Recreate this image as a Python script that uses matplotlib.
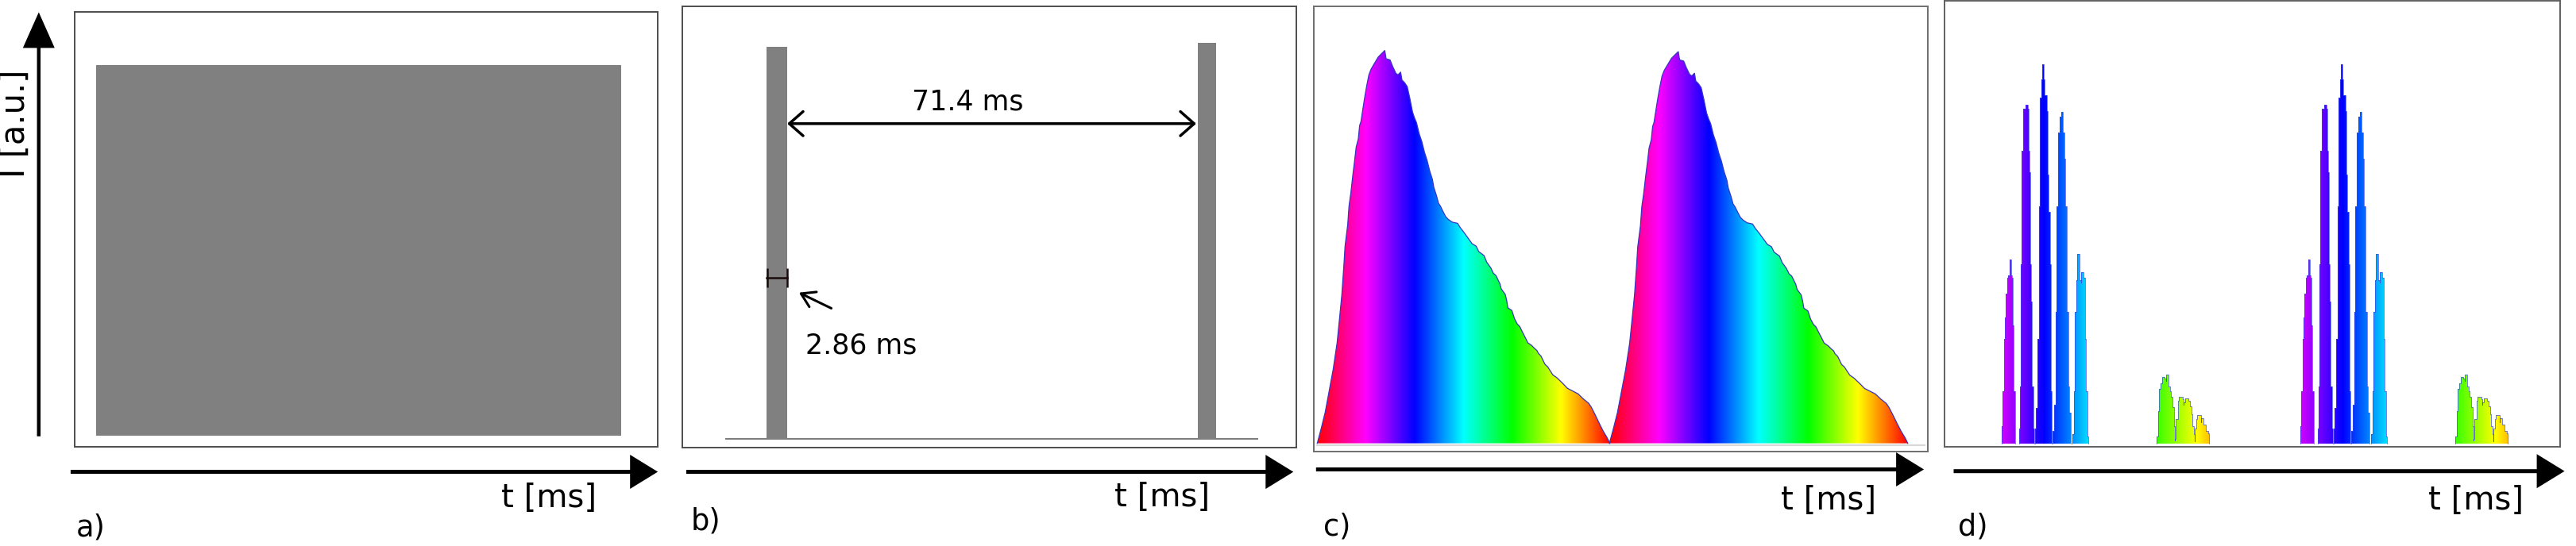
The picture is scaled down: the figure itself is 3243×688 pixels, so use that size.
import numpy as np
import matplotlib
matplotlib.use("Agg")
import matplotlib.pyplot as plt
from matplotlib.colors import hsv_to_rgb
from matplotlib.path import Path
from matplotlib.patches import PathPatch

# ---------------- data ----------------
# a) continuous illumination: time [ms] and intensity [a.u.]
A_T = [3.64, 93.74]
A_I = [1.0, 1.0]

# b) pulsed illumination (period 71.4 ms, pulse width 2.86 ms)
B_PULSE_START = [14.65, 89.96]
B_PULSE_WIDTH = [3.61, 3.19]
B_PULSE_HEIGHT = [1.0, 1.01]
B_BASELINE_T = [7.6, 100.3]
B_PERIOD_LABEL = "71.4 ms"
B_WIDTH_LABEL = "2.86 ms"

# c) one period of the colour-swept pulse (time from pulse start [ms], intensity)
C_T = [0.00, 0.96, 1.92, 2.88, 3.85, 4.81, 5.45, 5.96, 6.41, 6.73,
       7.37, 7.69, 8.14, 8.65, 8.97, 9.42, 9.94, 10.26, 10.58, 11.22,
       11.54, 11.99, 12.50, 13.01, 13.78, 14.74, 15.38, 16.35, 16.67, 17.63,
       18.27, 19.04, 19.55, 20.19, 20.51, 21.15, 21.79, 22.44, 23.08, 23.53,
       24.04, 24.68, 25.32, 25.96, 26.60, 27.24, 27.88, 28.21, 28.85, 29.36,
       29.81, 30.45, 31.09, 31.73, 32.69, 33.97, 34.62, 35.58, 36.54, 37.50,
       38.46, 39.10, 40.38, 41.03, 41.99, 42.63, 43.27, 44.23, 44.55, 45.51,
       45.83, 46.15, 47.12, 47.76, 48.40, 49.04, 49.68, 50.32, 50.96, 51.92,
       52.56, 53.21, 53.53, 54.17, 55.13, 55.77, 57.05, 58.01, 59.29, 60.58,
       61.86, 63.14, 64.42, 65.71, 66.35, 67.31, 68.27, 69.23, 70.19, 70.83]
C_I = [0.000, 0.038, 0.079, 0.133, 0.188, 0.256, 0.324, 0.379, 0.447, 0.502,
       0.556, 0.604, 0.638, 0.686, 0.713, 0.754, 0.775, 0.809, 0.819, 0.863,
       0.884, 0.911, 0.938, 0.952, 0.966, 0.983, 0.990, 1.000, 0.979, 0.976,
       0.959, 0.942, 0.938, 0.945, 0.925, 0.918, 0.908, 0.877, 0.843, 0.829,
       0.816, 0.788, 0.768, 0.741, 0.720, 0.693, 0.672, 0.652, 0.631, 0.611,
       0.604, 0.590, 0.577, 0.570, 0.563, 0.560, 0.549, 0.536, 0.522, 0.508,
       0.502, 0.488, 0.478, 0.461, 0.447, 0.433, 0.427, 0.406, 0.393, 0.379,
       0.365, 0.345, 0.338, 0.317, 0.304, 0.297, 0.283, 0.270, 0.256, 0.249,
       0.242, 0.236, 0.229, 0.222, 0.201, 0.195, 0.174, 0.167, 0.154, 0.140,
       0.133, 0.126, 0.113, 0.102, 0.092, 0.072, 0.051, 0.031, 0.014, 0.000]
C_PULSE_START = [0.87, 71.6]
C_PULSE_STRETCH = [1.0, 1.02]
C_PULSE_HEIGHT = [1.0, 0.997]

# d) one period of the spectrally resolved signal (time from period start [ms])
D_SPIKES_T = [
    [14.24, 14.43, 14.76, 15.00, 15.25, 15.51, 15.82, 16.14, 16.27, 16.52, 16.77, 16.90, 17.09, 17.53],
    [18.36, 18.55, 18.80, 19.05, 19.31, 20.00, 20.19, 20.45, 20.64, 20.83, 21.02, 21.27, 21.52, 21.84, 21.97],
    [22.16, 22.47, 22.79, 23.11, 23.42, 23.74, 23.93, 24.12, 24.36, 24.55, 25.01, 25.31, 25.50, 25.77, 25.96, 26.15],
    [26.40, 26.78, 27.22, 27.41, 27.72, 28.04, 28.42, 28.62, 28.92, 29.18, 29.43, 29.76, 30.19, 30.44, 30.71],
    [31.14, 31.47, 31.77, 32.09, 32.34, 32.61, 32.86, 33.23, 33.56, 33.86, 34.13, 34.44, 34.70, 34.94],
    [51.27, 51.60, 51.90, 52.22, 52.55, 52.85, 53.17, 53.50, 53.80, 54.12,
     54.45, 54.75, 55.07, 55.39, 55.70, 55.89, 56.35, 56.65, 57.16, 57.49,
     57.79, 58.05, 58.43, 58.87, 59.20, 59.57, 59.82, 60.20, 60.45, 60.77,
     60.96, 61.20, 61.58, 61.85, 62.23, 62.48, 62.99, 63.62, 63.86],
]
D_SPIKES_I = [
    [0, 0.048, 0.138, 0.277, 0.333, 0.396, 0.438, 0.444, 0.486, 0.444, 0.438, 0.312, 0.138, 0],
    [0, 0.041, 0.152, 0.472, 0.772, 0.883, 0.893, 0.883, 0.772, 0.716, 0.472, 0.375, 0.152, 0.041, 0],
    [0, 0.041, 0.096, 0.277, 0.625, 0.911, 0.960, 1.0, 0.960, 0.918, 0.876, 0.709, 0.611, 0.472, 0.138, 0],
    [0, 0.034, 0.103, 0.347, 0.625, 0.820, 0.862, 0.873, 0.820, 0.751, 0.625, 0.347, 0.152, 0.082, 0],
    [0, 0.027, 0.138, 0.347, 0.431, 0.500, 0.431, 0.424, 0.452, 0.438, 0.277, 0.138, 0.020, 0],
    [0, 0.020, 0.086, 0.145, 0.159, 0.176, 0.173, 0.166, 0.183, 0.152,
     0.138, 0.124, 0.097, 0.048, 0.009, 0.013, 0.065, 0.114, 0.124, 0.117,
     0.103, 0.110, 0.121, 0.114, 0.100, 0.079, 0.048, 0.027, 0.007, 0.041,
     0.065, 0.076, 0.076, 0.058, 0.067, 0.051, 0.035, 0.028, 0],
]
D_PERIOD_START = [-0.57, 70.83]
D_COLOR_SPAN = 73.1

PANEL_LABELS = ["a)", "b)", "c)", "d)"]
X_LABEL = "t [ms]"
Y_LABEL = "I [a.u.]"

# ---------------- figure ----------------
W, H = 3243, 688
fig = plt.figure(figsize=(W / 100, H / 100), dpi=100)
fig.patch.set_facecolor("white")


def box_axes(l, t, r, b, edge="#4d4d4d"):
    ax = fig.add_axes([l / W, 1 - b / H, (r - l) / W, (b - t) / H])
    ax.set_xticks([])
    ax.set_yticks([])
    for s in ax.spines.values():
        s.set_color(edge)
        s.set_linewidth(1.4)
    return ax


def hue_strip(n=800):
    hue = np.linspace(1.0, 0.0, n)
    hsv = np.stack([hue, np.ones(n), np.ones(n)], axis=-1)
    return hsv_to_rgb(hsv)[None, :, :]


def stepped(t, i):
    """Outer staircase through the sampled outline (detector binning look)."""
    st, si = [t[0]], [i[0]]
    for k in range(len(t) - 1):
        if i[k + 1] >= i[k]:
            st.append(t[k]); si.append(i[k + 1])
        else:
            st.append(t[k + 1]); si.append(i[k])
        st.append(t[k + 1]); si.append(i[k + 1])
    return st, si


def gradient_fill(ax, polys, x0, x1, top, outline="#3535c0", olw=0.9):
    verts, codes = [], []
    for t, i in polys:
        pts = list(zip(t, i))
        verts += pts + [pts[0]]
        codes += [Path.MOVETO] + [Path.LINETO] * (len(pts) - 1) + [Path.CLOSEPOLY]
    patch = PathPatch(Path(verts, codes), facecolor="none", edgecolor="none",
                      transform=ax.transData)
    ax.add_patch(patch)
    im = ax.imshow(hue_strip(), extent=(x0, x1, 0, top), origin="lower",
                   aspect="auto", interpolation="bilinear", zorder=2)
    im.set_clip_path(patch)
    for t, i in polys:
        ax.plot(t, i, color=outline, lw=olw, zorder=3)


# overlay for axis arrows and labels (pixel coordinates)
ov = fig.add_axes([0, 0, 1, 1])
ov.set_xlim(0, W)
ov.set_ylim(H, 0)
ov.axis("off")

# panel a
axa = box_axes(94.3, 14.5, 828.2, 562.5)
axa.fill_between(A_T, A_I, 0, color="#808080", lw=0)
axa.set_xlim(0, 100)
axa.set_ylim(-0.030, 1.1447)

# panel b
axb = box_axes(859.4, 7.9, 1631.8, 563.9)
axb.plot(B_BASELINE_T, [0, 0], color="#7a7a7a", lw=1.4, zorder=1)
axb.bar(B_PULSE_START, B_PULSE_HEIGHT, width=B_PULSE_WIDTH, align="edge",
        color="#808080", lw=0, zorder=2)
p_end0 = B_PULSE_START[0] + B_PULSE_WIDTH[0]
axb.annotate("", xy=(B_PULSE_START[1] - 0.28, 0.804), xytext=(p_end0, 0.804),
             arrowprops=dict(arrowstyle="<->,head_length=1.25,head_width=1.1",
                             lw=2.5, color="black", shrinkA=0, shrinkB=0,
                             mutation_scale=10), zorder=4)
axb.text(40.0, 0.840, B_PERIOD_LABEL, fontsize=25, ha="left", va="baseline")
# width marker
axb.plot([B_PULSE_START[0], p_end0], [0.411, 0.411], color="#1a0a0a", lw=1.8, zorder=4)
axb.vlines([B_PULSE_START[0] + 0.1, p_end0 - 0.05], 0.387, 0.435, color="#1a0a0a",
           lw=1.8, zorder=4)
axb.annotate("", xy=(20.31, 0.373), xytext=(25.96, 0.333),
             arrowprops=dict(arrowstyle="->,head_length=1.2,head_width=0.75",
                             lw=2.2, color="black", shrinkA=0, shrinkB=0,
                             mutation_scale=10), zorder=4)
axb.text(21.4, 0.218, B_WIDTH_LABEL, fontsize=25, ha="left", va="baseline")
axb.set_xlim(0, 107.13)
axb.set_ylim(-0.0221, 1.1034)

# panel c
axc = box_axes(1653.8, 7.9, 2427.3, 569.1, edge="#6e6e6e")
axc.plot([0.9, 148.0], [-0.005, -0.005], color="#d8d8d8", lw=1.6, zorder=1)
for s0, st, hh in zip(C_PULSE_START, C_PULSE_STRETCH, C_PULSE_HEIGHT):
    t = [s0 + v * st for v in C_T]
    i = [v * hh for v in C_I]
    gradient_fill(axc, [(t, i)], t[0], t[-1], 1.05)
axc.set_xlim(0, 148.75)
axc.set_ylim(-0.0212, 1.1125)

# panel d
axd = box_axes(2448, 1.3, 3222.5, 562.5, edge="#606060")
for ps in D_PERIOD_START:
    polys = [stepped([ps + v for v in ts], list(is_)) for ts, is_ in zip(D_SPIKES_T, D_SPIKES_I)]
    gradient_fill(axd, polys, ps, ps + D_COLOR_SPAN, 1.05, outline="#3a4de0", olw=0.5)
axd.set_xlim(0, 147.08)
axd.set_ylim(-0.0063, 1.1658)

# axis arrows
for x0, x1, y in [(88.9, 828.2, 594.5), (864, 1628.3, 594.6),
                  (1656.8, 2422.1, 591.5), (2459.5, 3228.6, 593.7)]:
    ov.arrow(x0, y, x1 - x0, 0, width=5.0, head_width=43, head_length=35,
             length_includes_head=True, color="black", lw=0)
ov.arrow(48.8, 549.8, 0, 15.4 - 549.8, width=4.5, head_width=40, head_length=45,
         length_includes_head=True, color="black", lw=0)

# labels
for x, y in [(631, 638.7), (1403, 638), (2242, 641.5), (3057, 641.5)]:
    ov.text(x, y, X_LABEL, fontsize=29, ha="left", va="baseline")
for lab, (x, y) in zip(PANEL_LABELS, [(96, 675), (870, 668), (1666, 674.5), (2465, 674.5)]):
    ov.text(x, y, lab, fontsize=26.5, ha="left", va="baseline")
ov.text(19.2, 155.7, Y_LABEL, fontsize=30, rotation=90, ha="center", va="center")

fig.savefig("out.png", dpi=100, facecolor="white")
